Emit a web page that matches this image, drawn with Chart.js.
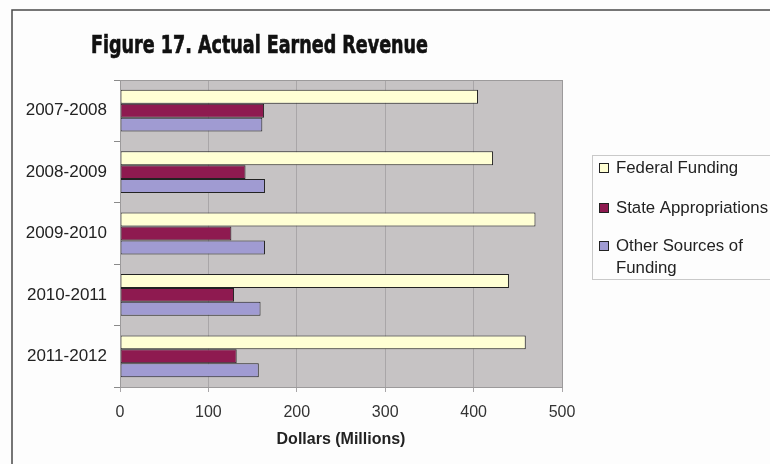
<!DOCTYPE html>
<html>
<head>
<meta charset="utf-8">
<script src="https://cdn.jsdelivr.net/npm/chart.js@4"></script>
<style>
    html, body { margin: 0; padding: 0; background: #fdfdfd; }
    #wrap { width: 770px; height: 464px; }
</style>
</head>
<body>
<div id="wrap"><canvas id="revChart" width="770" height="464"></canvas></div>
<script>
// revenue by fiscal year, in millions
const years = ['2007-2008', '2008-2009', '2009-2010', '2010-2011', '2011-2012'];
const seriesNames = ['Federal Funding', 'State Appropriations', 'Other Sources of Funding'];
const federalFunding = [405, 422, 470, 440, 459];
const stateApprop = [163, 142, 126, 129, 132];
const otherSources = [161, 164, 164, 159, 157];
const xTicks = [0, 100, 200, 300, 400, 500];

const seriesColors = ['#FFFFD4', '#8E1A50', '#A09BD2'];
const chartTitle = 'Figure 17. Actual Earned Revenue';

// frame, plot background, title and legend
const decorPlugin = {
    id: 'decor',
    beforeDraw(chart) {
        const { ctx, chartArea: a } = chart;
        ctx.save();
        ctx.fillStyle = '#fdfdfd';
        ctx.fillRect(0, 0, chart.width, chart.height);
        // outer frame (only top + left visible)
        ctx.strokeStyle = '#4a4a4a';
        ctx.lineWidth = 1.5;
        ctx.beginPath();
        ctx.moveTo(12, chart.height);
        ctx.lineTo(12, 10);
        ctx.lineTo(chart.width, 10);
        ctx.stroke();
        // plot area
        ctx.fillStyle = '#C6C3C4';
        ctx.fillRect(a.left, a.top, a.right - a.left, a.bottom - a.top);
        ctx.restore();
    },
    afterDraw(chart) {
        const { ctx, chartArea: a } = chart;
        ctx.save();
        ctx.strokeStyle = '#9c9a9b';
        ctx.lineWidth = 1;
        ctx.strokeRect(a.left + 0.5, a.top + 0.5, a.right - a.left, a.bottom - a.top);

        // title, squeezed a bit and thickened
        ctx.font = 'bold 25px "DejaVu Sans"';
        ctx.fillStyle = '#111';
        ctx.strokeStyle = '#111';
        ctx.lineWidth = 0.7;
        ctx.textBaseline = 'alphabetic';
        const w = ctx.measureText(chartTitle).width;
        ctx.translate(91, 53);
        ctx.scale(337 / w, 1);
        ctx.fillText(chartTitle, 0, 0);
        ctx.strokeText(chartTitle, 0, 0);
        ctx.restore();

        // legend
        ctx.save();
        ctx.fillStyle = '#fdfdfd';
        ctx.strokeStyle = '#c9c9c9';
        ctx.lineWidth = 1;
        ctx.fillRect(592, 155, 200, 124);
        ctx.strokeRect(592.5, 155.5, 200, 124);
        ctx.font = '16.8px "Liberation Sans"';
        ctx.textBaseline = 'middle';
        const rowY = [168, 208, 246];
        chart.data.datasets.forEach((ds, i) => {
            const y = rowY[i];
            ctx.fillStyle = ds.backgroundColor;
            ctx.fillRect(599, y - 5, 10, 10);
            ctx.strokeStyle = '#222';
            ctx.strokeRect(599.5, y - 4.5, 9, 9);
            ctx.fillStyle = '#222';
            // simple word wrap
            const words = ds.label.split(' ');
            let line = '', ly = y;
            words.forEach(word => {
                const test = line ? line + ' ' + word : word;
                if (ctx.measureText(test).width > 156 && line) {
                    ctx.fillText(line, 616, ly);
                    line = word;
                    ly += 22;
                } else {
                    line = test;
                }
            });
            ctx.fillText(line, 616, ly);
        });
        ctx.restore();
    }
};

const makeSet = (i, data) => ({
    label: seriesNames[i],
    data: data,
    backgroundColor: seriesColors[i],
    borderColor: '#222',
    borderWidth: 1,
    borderSkipped: false,
    categoryPercentage: 0.68,
    barPercentage: 1.0
});

new Chart(document.getElementById('revChart'), {
    type: 'bar',
    data: {
        labels: years,
        datasets: [
            makeSet(0, federalFunding),
            makeSet(1, stateApprop),
            makeSet(2, otherSources)
        ]
    },
    options: {
        indexAxis: 'y',
        responsive: false,
        devicePixelRatio: 1,
        animation: false,
        layout: { padding: { left: 0, right: 208, top: 80, bottom: 11 } },
        plugins: {
            legend: { display: false },
            title: { display: false },
            tooltip: { enabled: false }
        },
        scales: {
            y: {
                afterFit(scale) { scale.width = 120; },
                border: { display: true, color: '#8a8a8a' },
                grid: { drawOnChartArea: false, tickLength: 6, color: '#8a8a8a' },
                ticks: {
                    padding: 7,
                    color: '#222',
                    font: { family: 'Liberation Sans', size: 17 }
                }
            },
            x: {
                min: xTicks[0],
                max: xTicks[xTicks.length - 1],
                afterBuildTicks(scale) { scale.ticks = xTicks.map(v => ({ value: v })); },
                afterFit(scale) { scale.height = 66; },
                border: { display: true, color: '#8a8a8a' },
                grid: { color: '#A9A6A8', tickLength: 5 },
                ticks: {
                    padding: 11,
                    color: '#333',
                    font: { family: 'Liberation Sans', size: 16 }
                },
                title: {
                    display: true,
                    text: 'Dollars (Millions)',
                    color: '#222',
                    font: { family: 'Liberation Sans', size: 16, weight: 'bold' },
                    padding: { top: 4, bottom: 4 }
                }
            }
        }
    },
    plugins: [decorPlugin]
});
</script>
</body>
</html>
